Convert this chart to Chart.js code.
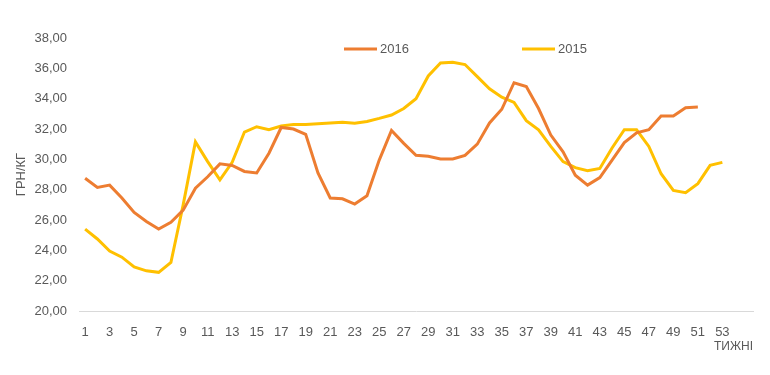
<!DOCTYPE html>
<html>
<head>
<meta charset="utf-8">
<script src="https://cdn.jsdelivr.net/npm/chart.js@4"></script>
<style>
    html, body { margin: 0; padding: 0; background: #fff; }
    .chartBox { position: relative; width: 770px; height: 375px; }
</style>
</head>
<body>
<div class="chartBox">
    <canvas id="myChart" width="770" height="375"></canvas>
</div>
<script>
// weekly prices, UAH per kg
const weeks = ['1','2','3','4','5','6','7','8','9','10','11','12','13','14','15','16','17','18','19','20',
    '21','22','23','24','25','26','27','28','29','30','31','32','33','34','35','36','37','38','39','40',
    '41','42','43','44','45','46','47','48','49','50','51','52','53','','']

const prices2016 = [28.75, 28.15, 28.3, 27.45, 26.5, 25.9, 25.4, 25.85, 26.65, 28.1,
    28.85, 29.7, 29.6, 29.2, 29.1, 30.4, 32.1, 32.0, 31.65, 29.1,
    27.45, 27.4, 27.05, 27.6, 29.95, 31.9, 31.05, 30.27, 30.2, 30.02,
    30.02, 30.26, 31.0, 32.4, 33.3, 35.05, 34.8, 33.35, 31.6, 30.5,
    28.95, 28.3, 28.8, 29.95, 31.1, 31.75, 31.95, 32.85, 32.85, 33.4, 33.45]

const prices2015 = [25.4, 24.75, 23.95, 23.55, 22.9, 22.65, 22.55, 23.2, 27.0, 31.15,
    29.85, 28.65, 29.8, 31.8, 32.15, 31.95, 32.2, 32.3, 32.3, 32.35,
    32.4, 32.45, 32.38, 32.5, 32.7, 32.92, 33.35, 34.0, 35.5, 36.35,
    36.4, 36.25, 35.45, 34.65, 34.1, 33.75, 32.55, 31.95, 30.85, 29.85,
    29.45, 29.25, 29.4, 30.75, 31.95, 31.95, 30.85, 29.05, 27.95, 27.8,
    28.4, 29.6, 29.8]

const seriesNames = ['2016', '2015']
const seriesColors = ['#ED7D31', '#FFC000']
const yTitle = 'ГРН/КГ'
const xTitle = 'ТИЖНІ'

const textColor = '#595959'
const fontFamily = '"Liberation Sans", Arial, sans-serif'

// legend spread out like the excel one
const wideLegend = {
    id: 'wideLegend',
    afterDraw(chart){
        const ctx = chart.ctx
        const starts = [344, 522]
        ctx.save()
        ctx.font = `13px ${fontFamily}`
        ctx.textBaseline = 'middle'
        chart.data.datasets.forEach((ds, i) => {
            const x = starts[i]
            ctx.strokeStyle = ds.borderColor
            ctx.lineWidth = 3
            ctx.beginPath()
            ctx.moveTo(x, 49)
            ctx.lineTo(x + 33, 49)
            ctx.stroke()
            ctx.fillStyle = textColor
            ctx.fillText(ds.label, x + 36, 49)
        })
        ctx.restore()
    }
}

const ctx = document.getElementById('myChart').getContext('2d')
new Chart(ctx, {
    type: 'line',
    data: {
        labels: weeks,
        datasets: [
            {
                label: seriesNames[0],
                data: prices2016,
                borderColor: seriesColors[0],
                backgroundColor: seriesColors[0],
                borderWidth: 3,
                pointRadius: 0,
                tension: 0
            },
            {
                label: seriesNames[1],
                data: prices2015,
                borderColor: seriesColors[1],
                backgroundColor: seriesColors[1],
                borderWidth: 3,
                pointRadius: 0,
                tension: 0
            }
        ]
    },
    options: {
        responsive: false,
        animation: false,
        layout: { padding: { top: 38, right: 17, bottom: 0, left: 0 } },
        plugins: {
            legend: { display: false },
            tooltip: { enabled: false }
        },
        scales: {
            x: {
                offset: true,
                grid: { display: false, drawTicks: false },
                border: { display: true, color: '#d9d9d9', width: 1 },
                ticks: {
                    color: textColor,
                    font: { family: fontFamily, size: 13 },
                    autoSkip: false,
                    maxRotation: 0,
                    padding: 14,
                    callback: function(value, index){
                        return index % 2 === 0 ? this.getLabelForValue(value) : ''
                    }
                },
                title: {
                    display: true,
                    text: xTitle,
                    align: 'end',
                    color: textColor,
                    font: { family: fontFamily, size: 12 },
                    padding: { top: 0, bottom: 21 }
                },
                afterFit(scale){ scale.height = 64 }
            },
            y: {
                min: 20,
                max: 38,
                grid: { display: false, drawTicks: false },
                border: { display: false },
                ticks: {
                    stepSize: 2,
                    color: textColor,
                    font: { family: fontFamily, size: 13 },
                    padding: 12,
                    callback: v => v.toFixed(2).replace('.', ',')
                },
                title: {
                    display: true,
                    text: yTitle,
                    color: textColor,
                    font: { family: fontFamily, size: 13 },
                    padding: { top: 14, bottom: 0 }
                },
                afterFit(scale){ scale.width = 79 }
            }
        }
    },
    plugins: [wideLegend]
})
</script>
</body>
</html>
